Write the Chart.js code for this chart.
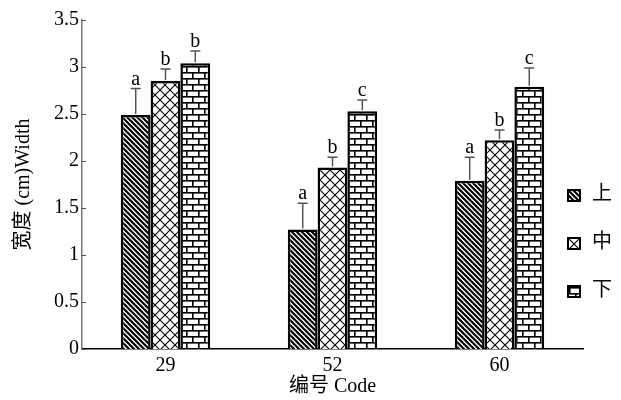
<!DOCTYPE html>
<html>
<head>
<meta charset="utf-8">
<script src="https://cdn.jsdelivr.net/npm/chart.js@4.4.1/dist/chart.umd.min.js"></script>
<style>
  html, body { margin: 0; padding: 0; background: #fff; }
  #wrap { width: 621px; height: 400px; }
</style>
</head>
<body>
<div id="wrap"><canvas id="chart"></canvas></div>
<script>
// data
var categories = ['29', '52', '60'];
var seriesNames = ['上', '中', '下'];
var upperVals = [2.49, 1.27, 1.79];
var middleVals = [2.85, 1.93, 2.22];
var lowerVals = [3.04, 2.53, 2.79];
var upperErr = [0.28, 0.28, 0.25];
var middleErr = [0.13, 0.11, 0.11];
var lowerErr = [0.13, 0.12, 0.20];
var upperSig = ['a', 'a', 'a'];
var middleSig = ['b', 'b', 'b'];
var lowerSig = ['b', 'c', 'c'];
var yTicks = [0, 0.5, 1, 1.5, 2, 2.5, 3, 3.5];

var FONT = '"Liberation Serif", "Noto Sans CJK SC", serif';

function makePattern(kind)
{
    var c = document.createElement('canvas');
    var g = c.getContext('2d');
    if (kind == 'stripe') {
        c.width = 5; c.height = 5;
        g.fillStyle = '#fff'; g.fillRect(0, 0, 5, 5);
        g.strokeStyle = '#000'; g.lineWidth = 2.2;
        g.beginPath();
        g.moveTo(-1, -1); g.lineTo(6, 6);
        g.moveTo(-1, 4); g.lineTo(1, 6);
        g.moveTo(4, -1); g.lineTo(6, 1);
        g.stroke();
    } else if (kind == 'diamond') {
        c.width = 10; c.height = 10;
        g.fillStyle = '#fff'; g.fillRect(0, 0, 10, 10);
        g.strokeStyle = '#000'; g.lineWidth = 1.1;
        g.beginPath();
        g.moveTo(0, 0); g.lineTo(10, 10);
        g.moveTo(10, 0); g.lineTo(0, 10);
        g.stroke();
    } else {
        c.width = 12; c.height = 12;
        g.fillStyle = '#fff'; g.fillRect(0, 0, 12, 12);
        g.fillStyle = '#000';
        g.fillRect(0, 0, 12, 1.6);
        g.fillRect(0, 6, 12, 1.6);
        g.fillRect(0, 0, 1.6, 6);
        g.fillRect(6, 6, 1.6, 6);
    }
    return g.createPattern(c, 'repeat');
}

var ctx0 = document.getElementById('chart').getContext('2d');
var patterns = [makePattern('stripe'), makePattern('diamond'), makePattern('brick')];
var seriesVals = [upperVals, middleVals, lowerVals];
var seriesErr = [upperErr, middleErr, lowerErr];
var seriesSig = [upperSig, middleSig, lowerSig];

var datasets = [];
for (let i = 0; i < seriesNames.length; i++)
{
    datasets.push({
        label: seriesNames[i],
        data: seriesVals[i],
        backgroundColor: patterns[i],
        borderColor: '#000',
        borderWidth: 2.5,
        borderSkipped: 'bottom',
        categoryPercentage: 0.535,
        barPercentage: 1.0
    });
}

// error bars, letters, inward ticks and legend
var extras = {
    id: 'extras',
    afterDatasetsDraw: function(chart) {
        var c = chart.ctx;
        var ys = chart.scales.y;
        c.save();
        for (let i = 0; i < datasets.length; i++)
        {
            var meta = chart.getDatasetMeta(i);
            for (let j = 0; j < meta.data.length; j++)
            {
                var bar = meta.data[j];
                var top = ys.getPixelForValue(seriesVals[i][j] + seriesErr[i][j]);
                c.strokeStyle = '#555';
                c.lineWidth = 1.5;
                c.beginPath();
                c.moveTo(bar.x, bar.y - 1);
                c.lineTo(bar.x, top);
                c.moveTo(bar.x - 5, top);
                c.lineTo(bar.x + 5, top);
                c.stroke();
                c.fillStyle = '#000';
                c.font = '20px ' + FONT;
                c.textAlign = 'center';
                c.textBaseline = 'alphabetic';
                c.fillText(seriesSig[i][j], bar.x, top - 4);
            }
        }
        // inward ticks on y axis
        var ax = chart.chartArea.left;
        c.strokeStyle = '#555';
        c.lineWidth = 1;
        for (let k = 0; k < yTicks.length; k++)
        {
            var py = Math.round(ys.getPixelForValue(yTicks[k])) + 0.5;
            c.beginPath();
            c.moveTo(ax, py);
            c.lineTo(ax + 4, py);
            c.stroke();
        }
        // legend
        for (let i = 0; i < seriesNames.length; i++)
        {
            var ly = 189 + i * 48;
            c.fillStyle = '#000';
            c.fillRect(567, ly, 14, 13);
            c.fillStyle = patterns[i];
            c.save();
            c.translate(569, ly + 2);
            c.fillRect(0, 0, 10, 9);
            c.restore();
            c.fillStyle = '#000';
            c.font = '20px ' + FONT;
            c.textAlign = 'left';
            c.textBaseline = 'middle';
            c.fillText(seriesNames[i], 592, ly + 6);
        }
        c.restore();
    }
};

new Chart(ctx0, {
    type: 'bar',
    data: { labels: categories, datasets: datasets },
    options: {
        responsive: true,
        maintainAspectRatio: false,
        animation: false,
        layout: { padding: { top: 20, right: 38, left: 0, bottom: 0 } },
        plugins: {
            legend: { display: false },
            tooltip: { enabled: false }
        },
        scales: {
            x: {
                grid: { display: false, drawTicks: false },
                border: { color: '#000', width: 1.5 },
                ticks: { color: '#000', font: { family: FONT, size: 20 }, padding: 5 },
                title: { display: true, text: '编号 Code', color: '#000', font: { family: FONT, size: 20 }, padding: { top: 0, bottom: 1 } },
                afterFit: function(s) { s.height = 51; }
            },
            y: {
                min: 0,
                max: 3.5,
                grid: { display: false, drawTicks: false },
                border: { color: '#777', width: 1.5 },
                ticks: {
                    stepSize: 0.5,
                    color: '#000',
                    font: { family: FONT, size: 20 },
                    padding: 3,
                    callback: function(v) { return String(v); }
                },
                title: { display: true, text: '宽度 (cm)Width', color: '#000', font: { family: FONT, size: 20 }, padding: { top: 12, bottom: 0 } },
                afterFit: function(s) { s.width = 82; }
            }
        }
    },
    plugins: [extras]
});
</script>
</body>
</html>
